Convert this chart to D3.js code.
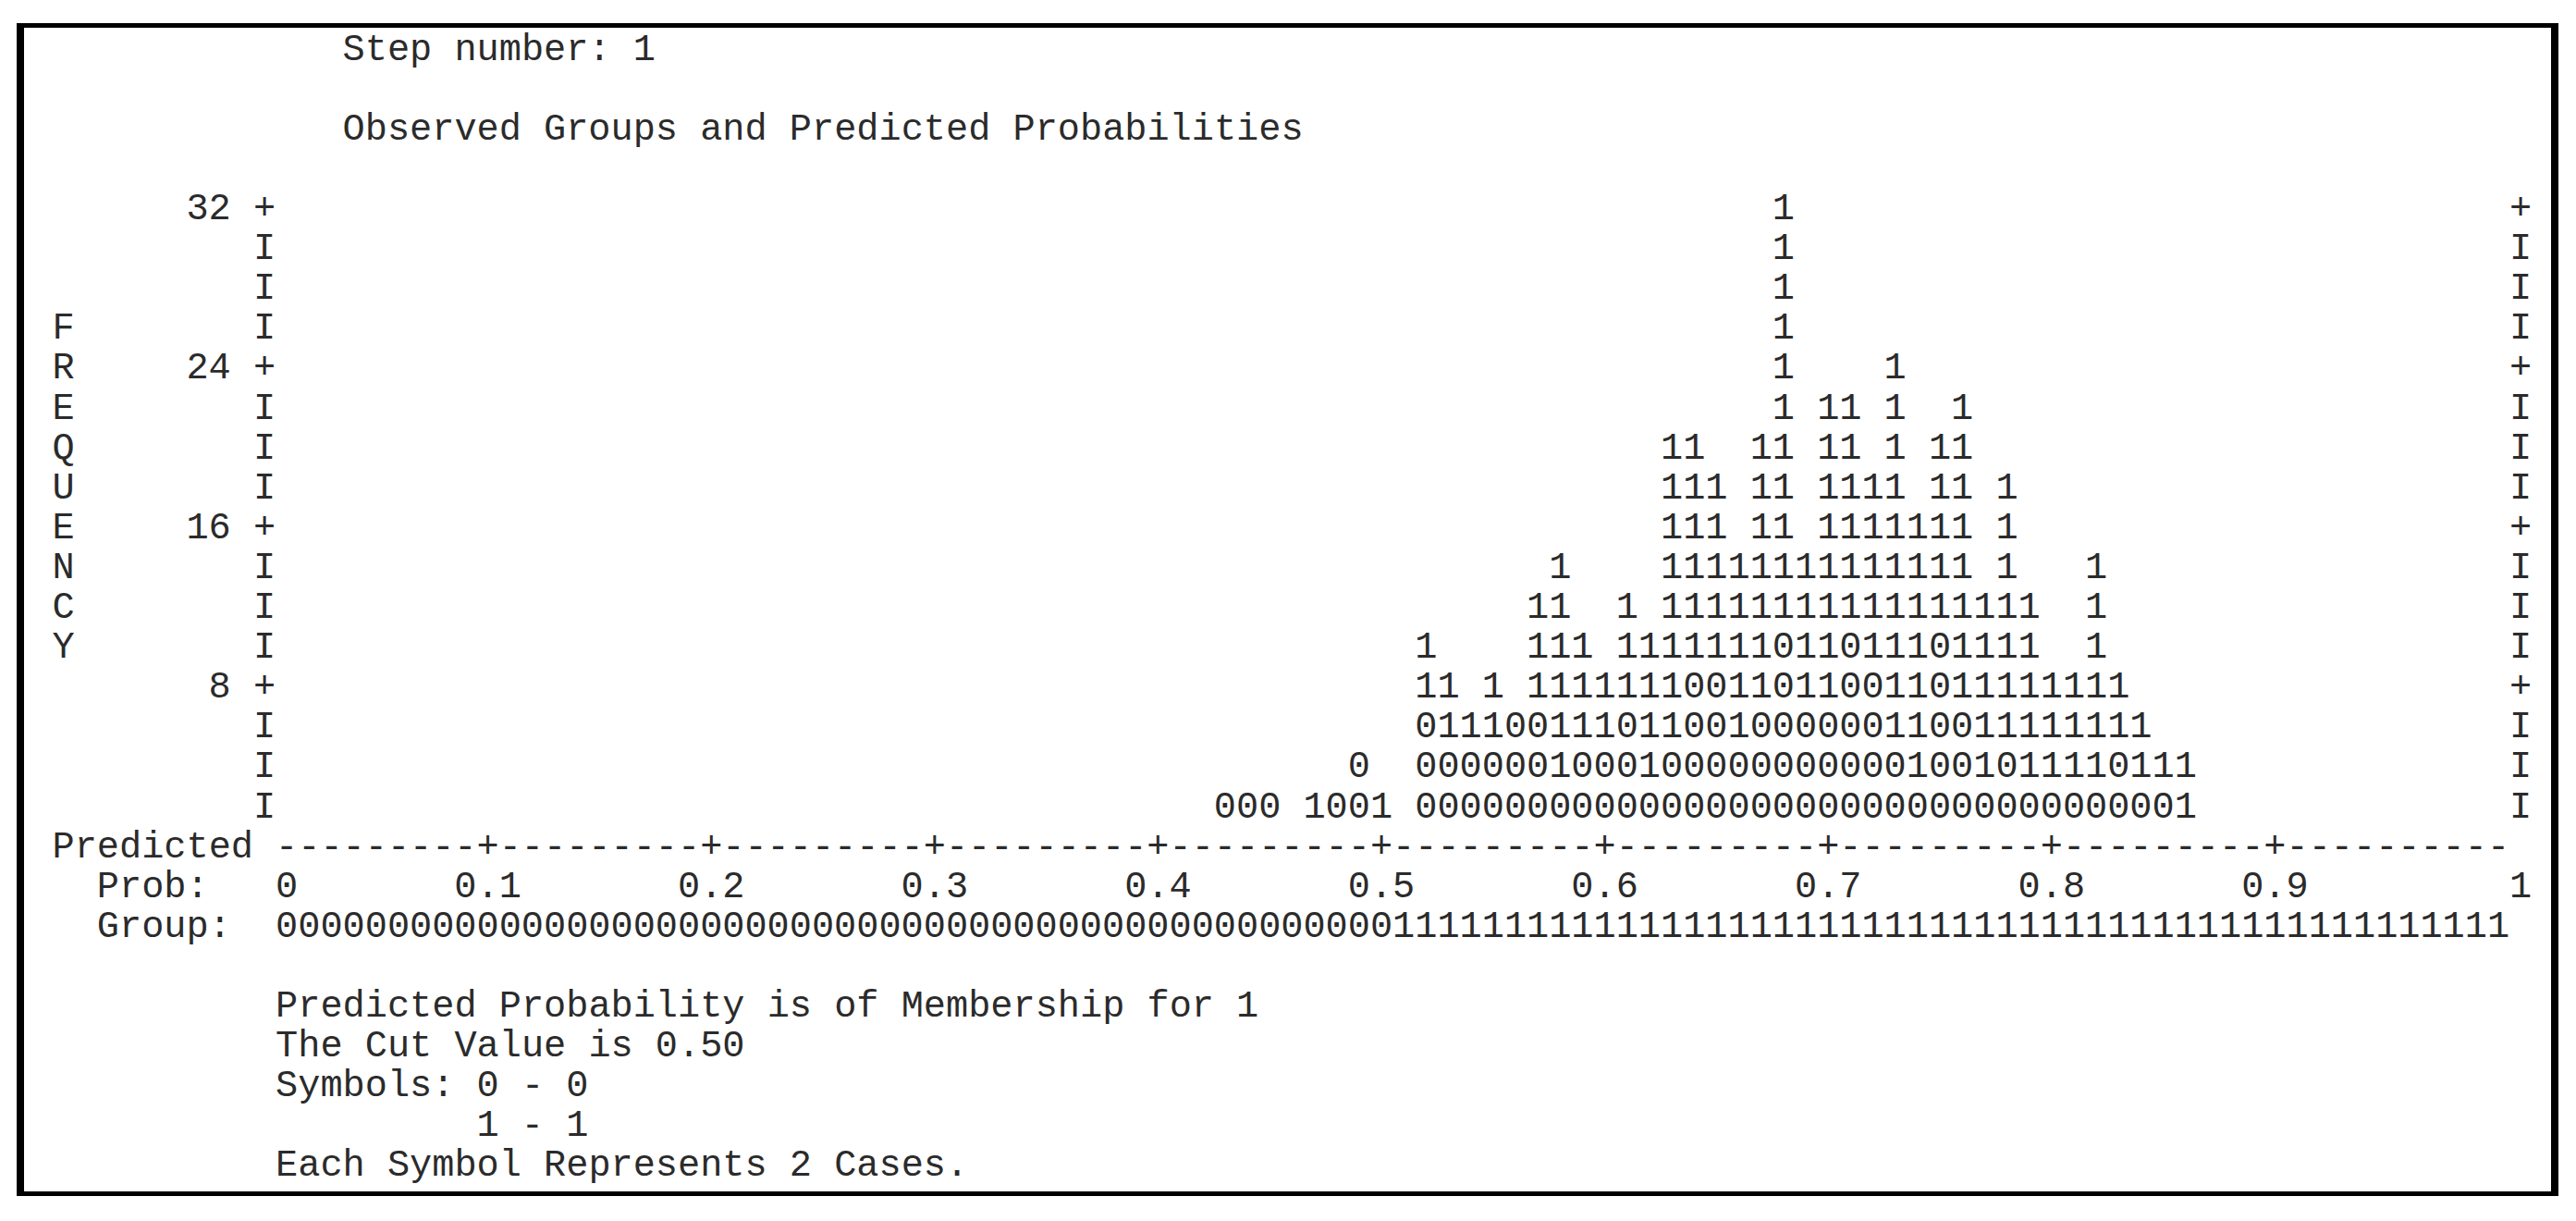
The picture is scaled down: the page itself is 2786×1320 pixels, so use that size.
<!DOCTYPE html>
<html>
<head>
<meta charset="utf-8">
<script src="https://cdn.jsdelivr.net/npm/d3@7"></script>
<style>
  body { margin: 0; background: #fff; }
  text { font-family: "Liberation Mono", "Courier New", monospace; font-size: 40.27px; fill: #2b2b2b; white-space: pre; }
</style>
</head>
<body>
<script>
// predicted probability bins (lower edge of each 0.01 bin) that hold cases
var probBins = [0.42, 0.43, 0.44, 0.46, 0.47, 0.48, 0.49, 0.51, 0.52, 0.53,
                0.54, 0.55, 0.56, 0.57, 0.58, 0.59, 0.60, 0.61, 0.62, 0.63,
                0.64, 0.65, 0.66, 0.67, 0.68, 0.69, 0.70, 0.71, 0.72, 0.73,
                0.74, 0.75, 0.76, 0.77, 0.78, 0.79, 0.80, 0.81, 0.82, 0.83,
                0.84, 0.85];
// symbols per bin (each symbol = 2 cases), observed group 0
var group0 = [1, 1, 1, 0, 1, 2, 0, 3, 2, 2,
              2, 3, 3, 1, 2, 2, 3, 1, 2, 4,
              4, 2, 3, 5, 3, 3, 5, 4, 2, 1,
              5, 3, 1, 2, 1, 1, 1, 1, 2, 1,
              1, 0];
// observed group 1
var group1 = [0, 0, 0, 1, 0, 0, 1, 2, 2, 1,
              2, 0, 3, 6, 3, 2, 3, 4, 8, 6,
              5, 5, 7, 11, 4, 8, 6, 5, 10, 7,
              5, 8, 5, 7, 5, 3, 3, 6, 2, 2,
              1, 2];

var probTicks = [0.1, 0.2, 0.3, 0.4, 0.5, 0.6, 0.7, 0.8, 0.9];
var probLabelValues = [0, 0.1, 0.2, 0.3, 0.4, 0.5, 0.6, 0.7, 0.8, 0.9, 1];
var probLabels = ["0", "0.1", "0.2", "0.3", "0.4", "0.5", "0.6", "0.7", "0.8", "0.9", "1"];
var freqTicks = [8, 16, 24, 32];
var cutValue = 0.5;
var casesPerSymbol = 2;
var maxFreq = 32;

var width = 2786,
    height = 1320;

var cw = 24.16;          // character cell width
var x0 = 56.5;           // left edge of column 0
function colX(c) { return x0 + c * cw; }

// baseline of text line L
var lineY = d3.scaleLinear().domain([0, 16]).range([237, 237 + 16 * 43.1]);

var xScale = d3.scaleLinear().domain([0, 1]).range([colX(10), colX(110)]);
var yScale = d3.scaleLinear().domain([0, maxFreq]).range([lineY(16), lineY(0)]);

var svg = d3.select("body")
    .append("svg")
    .attr("width", width)
    .attr("height", height);

svg.append("rect").attr("width", width).attr("height", height).attr("fill", "#fff");

// frame
var frame = svg.append("g").attr("fill", "#000");
frame.append("rect").attr("x", 18).attr("y", 25).attr("width", 2749).attr("height", 5);
frame.append("rect").attr("x", 18).attr("y", 1288).attr("width", 2749).attr("height", 5);
frame.append("rect").attr("x", 18).attr("y", 25).attr("width", 8).attr("height", 1268);
frame.append("rect").attr("x", 2759).attr("y", 25).attr("width", 8).attr("height", 1268);

function put(str, col, line) {
    svg.append("text")
        .attr("x", colX(col))
        .attr("y", lineY(line))
        .text(str);
}

// headers
put("Step number: 1", 13, -4);
put("Observed Groups and Predicted Probabilities", 13, -2);

// vertical label
"FREQUENCY".split("").forEach(function(ch, i) {
    put(ch, 0, 3 + i);
});

// frequency axis, left and right
var rows = d3.range(1, maxFreq / casesPerSymbol + 1);
var yAxis = svg.append("g");
[9, 110].forEach(function(c) {
    yAxis.selectAll(null)
        .data(rows)
        .enter()
        .append("text")
        .attr("x", colX(c) + cw / 2)
        .attr("y", function(r) { return yScale(r * casesPerSymbol); })
        .attr("text-anchor", "middle")
        .text(function(r) { return freqTicks.indexOf(r * casesPerSymbol) >= 0 ? "+" : "I"; });
});
yAxis.selectAll(null)
    .data(freqTicks)
    .enter()
    .append("text")
    .attr("x", colX(8))
    .attr("y", function(d) { return yScale(d); })
    .attr("text-anchor", "end")
    .text(function(d) { return d + " "; })
    .style("white-space", "normal");

// observed symbols, 0s stacked first then 1s
var stacks = [];
probBins.forEach(function(p, i) {
    var syms = [];
    for (var a = 0; a < group0[i]; a++) syms.push("0");
    for (var b = 0; b < group1[i]; b++) syms.push("1");
    syms.forEach(function(s, k) {
        stacks.push({ prob: p, level: k + 1, sym: s });
    });
});

svg.append("g")
    .selectAll("text")
    .data(stacks)
    .enter()
    .append("text")
    .attr("x", function(d) { return xScale(d.prob + 0.005); })
    .attr("y", function(d) { return yScale(d.level * casesPerSymbol); })
    .attr("text-anchor", "middle")
    .text(function(d) { return d.sym; });

// predicted probability axis
var bins = d3.range(100);
put("Predicted", 0, 16);
svg.append("g")
    .selectAll("text")
    .data(bins)
    .enter()
    .append("text")
    .attr("x", function(b) { return xScale((b + 0.5) / 100); })
    .attr("y", lineY(16))
    .attr("text-anchor", "middle")
    .text(function(b) {
        var isTick = probTicks.some(function(t) { return Math.round(t * 100) === b + 1; });
        return isTick ? "+" : "-";
    });

put("Prob:", 2, 17);
svg.append("g")
    .selectAll("text")
    .data(probLabelValues)
    .enter()
    .append("text")
    .attr("x", function(v, i) {
        if (v === 0 || v === 1) return xScale(v) + cw / 2;
        return xScale(v) - cw / 2;
    })
    .attr("y", lineY(17))
    .attr("text-anchor", "middle")
    .text(function(v, i) { return probLabels[i]; });

put("Group:", 2, 18);
svg.append("g")
    .selectAll("text")
    .data(bins)
    .enter()
    .append("text")
    .attr("x", function(b) { return xScale((b + 0.5) / 100); })
    .attr("y", lineY(18))
    .attr("text-anchor", "middle")
    .text(function(b) { return b / 100 >= cutValue ? "1" : "0"; });

// notes
put("Predicted Probability is of Membership for 1", 10, 20);
put("The Cut Value is " + cutValue.toFixed(2), 10, 21);
put("Symbols: 0 - 0", 10, 22);
put("1 - 1", 19, 23);
put("Each Symbol Represents " + casesPerSymbol + " Cases.", 10, 24);
</script>
</body>
</html>
